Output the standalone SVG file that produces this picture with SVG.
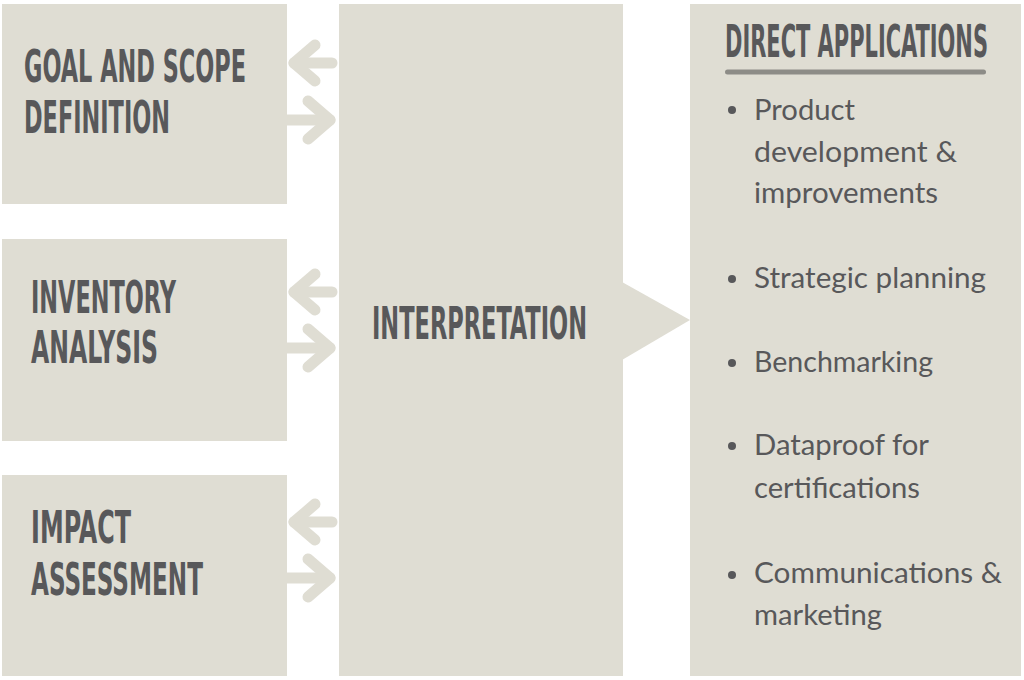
<svg xmlns="http://www.w3.org/2000/svg" width="1024" height="680" viewBox="0 0 1024 680">
<style>
.box{fill:#dfddd3}
.arr{fill:none;stroke:#dfddd3;stroke-width:11;stroke-linecap:round;stroke-linejoin:round}
.ttl{font-family:"DejaVu Sans Condensed","DejaVu Sans",sans-serif;font-weight:bold;font-size:45px;fill:#58585a}
.itm{font-family:"Lato","Open Sans",sans-serif;font-size:28px;fill:#58585a}
.dot{fill:#58585a}
</style>
<rect width="1024" height="680" fill="#ffffff"/>
<g id="goal">
<rect class="box" x="2" y="4" width="285" height="200"/>
<text class="ttl" transform="translate(24 82) scale(0.5 1)" textLength="444" lengthAdjust="spacingAndGlyphs">GOAL AND SCOPE</text>
<text class="ttl" transform="translate(24 133) scale(0.5 1)" textLength="292" lengthAdjust="spacingAndGlyphs">DEFINITION</text>
</g>
<g id="inventory">
<rect class="box" x="2" y="239" width="285" height="202"/>
<text class="ttl" transform="translate(31 313) scale(0.5 1)" textLength="290" lengthAdjust="spacingAndGlyphs">INVENTORY</text>
<text class="ttl" transform="translate(31 363) scale(0.5 1)" textLength="254" lengthAdjust="spacingAndGlyphs">ANALYSIS</text>
</g>
<g id="impact">
<rect class="box" x="2" y="475" width="285" height="201"/>
<text class="ttl" transform="translate(31 543) scale(0.5 1)" textLength="200" lengthAdjust="spacingAndGlyphs">IMPACT</text>
<text class="ttl" transform="translate(31 595) scale(0.5 1)" textLength="344" lengthAdjust="spacingAndGlyphs">ASSESSMENT</text>
</g>
<g id="interpretation">
<rect class="box" x="339" y="4" width="284" height="672"/>
<polygon class="box" points="622,282 690,320 622,360"/>
<text class="ttl" transform="translate(372 339) scale(0.5 1)" textLength="430" lengthAdjust="spacingAndGlyphs">INTERPRETATION</text>
</g>
<g id="applications">
<rect class="box" x="690" y="4" width="331" height="672"/>
<text class="ttl" transform="translate(725 57) scale(0.5 1)" textLength="526" lengthAdjust="spacingAndGlyphs">DIRECT APPLICATIONS</text>
<rect x="725" y="69.5" width="261" height="5" rx="2.5" fill="#8d8c87"/>
<circle class="dot" cx="732" cy="110" r="4"/>
<text class="itm" x="754" y="120" textLength="101" lengthAdjust="spacingAndGlyphs">Product</text>
<text class="itm" x="754" y="162" textLength="203" lengthAdjust="spacingAndGlyphs">development &amp;</text>
<text class="itm" x="754" y="203" textLength="184" lengthAdjust="spacingAndGlyphs">improvements</text>
<circle class="dot" cx="732" cy="279" r="4"/>
<text class="itm" x="754" y="288" textLength="232" lengthAdjust="spacingAndGlyphs">Strategic planning</text>
<circle class="dot" cx="732" cy="363" r="4"/>
<text class="itm" x="754" y="372" textLength="179" lengthAdjust="spacingAndGlyphs">Benchmarking</text>
<circle class="dot" cx="732" cy="446" r="4"/>
<text class="itm" x="754" y="455" textLength="175" lengthAdjust="spacingAndGlyphs">Dataproof for</text>
<text class="itm" x="754" y="498" textLength="166" lengthAdjust="spacingAndGlyphs">certifications</text>
<circle class="dot" cx="732" cy="575" r="4"/>
<text class="itm" x="754" y="583" textLength="248" lengthAdjust="spacingAndGlyphs">Communications &amp;</text>
<text class="itm" x="754" y="625" textLength="128" lengthAdjust="spacingAndGlyphs">marketing</text>
</g>
<g id="connectors">
<polyline class="arr" points="315,45 294,63 315,81"/>
<line class="arr" x1="294" y1="63" x2="332" y2="63"/>
<line class="arr" x1="284" y1="120" x2="330" y2="120"/>
<polyline class="arr" points="308,101 330,120 308,139"/>
<polyline class="arr" points="315,274 294,292 315,310"/>
<line class="arr" x1="294" y1="292" x2="332" y2="292"/>
<line class="arr" x1="284" y1="348" x2="330" y2="348"/>
<polyline class="arr" points="308,329 330,348 308,367"/>
<polyline class="arr" points="315,504 294,522 315,540"/>
<line class="arr" x1="294" y1="522" x2="332" y2="522"/>
<line class="arr" x1="284" y1="578" x2="330" y2="578"/>
<polyline class="arr" points="308,559 330,578 308,597"/>
</g>
</svg>
